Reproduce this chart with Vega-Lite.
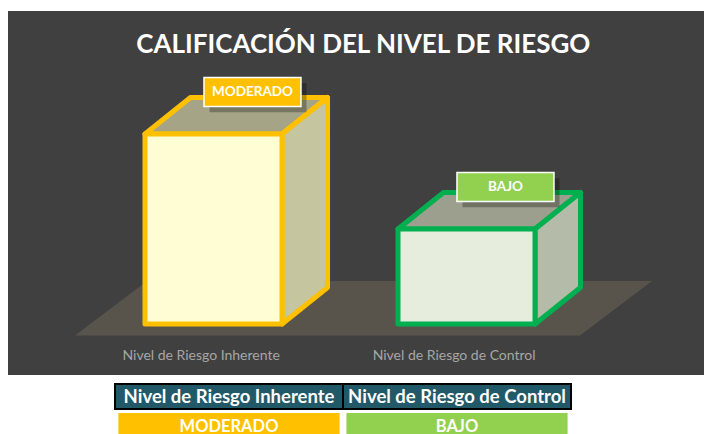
{
  "$schema": "https://vega.github.io/schema/vega-lite/v6.json",
  "padding": {"left": 8, "top": 11, "right": 0, "bottom": 0},
  "background": "white",
  "spacing": 9,
  "bounds": "flush",
  "config": {"view": {"stroke": null}, "text": {"font": "Lato"}},
  "datasets": {
    "barras": [
      {"nivel": "Nivel de Riesgo Inherente", "calificacion": "MODERADO", "valor": 2},
      {"nivel": "Nivel de Riesgo de Control", "calificacion": "BAJO", "valor": 1}
    ]
  },
  "vconcat": [
    {
      "width": 696,
      "height": 364,
      "view": {"fill": "#404040", "stroke": null},
      "data": {"name": "barras"},
      "transform": [
        {"window": [{"op": "row_number", "as": "rn"}]},
        {"calculate": "datum.rn - 1", "as": "pos"}
      ],
      "layer": [
        {
          "data": {"values": [{"borde": "frente"}, {"borde": "fondo"}]},
          "transform": [
            {"calculate": "datum.borde === 'frente' ? -0.121 : 0.4526", "as": "py"},
            {"calculate": "datum.borde === 'frente' ? -0.5474 : -0.2628", "as": "px1"},
            {"calculate": "datum.borde === 'frente' ? 1.4486 : 1.7332", "as": "px2"}
          ],
          "mark": {"type": "area", "orient": "horizontal", "fill": "#58544C"},
          "encoding": {
            "y": {"field": "py", "type": "quantitative", "scale": {"domain": [-0.5368, 3.2947], "nice": false, "zero": false}, "axis": null},
            "x": {"field": "px1", "type": "quantitative", "scale": {"domain": [-0.8123, 1.9387], "nice": false, "zero": false}, "axis": null},
            "x2": {"field": "px2"}
          }
        },
        {
          "transform": [
            {"calculate": "datum.valor", "as": "yf"},
            {"calculate": "datum.valor + 0.3842", "as": "yb"},
            {"fold": ["yf", "yb"], "as": ["borde", "yy"]},
            {"calculate": "datum.pos - 0.2708 + (datum.borde === 'yb' ? 0.1798 : 0)", "as": "xa"},
            {"calculate": "datum.pos + 0.2708 + (datum.borde === 'yb' ? 0.1798 : 0)", "as": "xb"}
          ],
          "mark": {"type": "area", "orient": "horizontal", "strokeWidth": 5, "strokeJoin": "round"},
          "encoding": {
            "y": {"field": "yy", "type": "quantitative", "scale": {"domain": [-0.5368, 3.2947], "nice": false, "zero": false}, "axis": null},
            "x": {"field": "xa", "type": "quantitative", "scale": {"domain": [-0.8123, 1.9387], "nice": false, "zero": false}, "axis": null},
            "x2": {"field": "xb"},
            "detail": {"field": "nivel"},
            "fill": {"field": "calificacion", "type": "nominal", "scale": {"domain": ["MODERADO", "BAJO"], "range": ["#A6A487", "#9C9F8E"]}, "legend": null},
            "stroke": {"field": "calificacion", "type": "nominal", "scale": {"domain": ["MODERADO", "BAJO"], "range": ["#FFC000", "#00B050"]}, "legend": null}
          }
        },
        {
          "transform": [
            {"calculate": "datum.pos + 0.2708", "as": "xf"},
            {"calculate": "datum.pos + 0.2708 + 0.1798", "as": "xr"},
            {"fold": ["xf", "xr"], "as": ["borde", "xx"]},
            {"calculate": "datum.borde === 'xr' ? 0.3842 : 0", "as": "ylo"},
            {"calculate": "datum.valor + (datum.borde === 'xr' ? 0.3842 : 0)", "as": "yhi"}
          ],
          "mark": {"type": "area", "orient": "vertical", "strokeWidth": 5, "strokeJoin": "round"},
          "encoding": {
            "x": {"field": "xx", "type": "quantitative", "scale": {"domain": [-0.8123, 1.9387], "nice": false, "zero": false}, "axis": null},
            "y": {"field": "yhi", "type": "quantitative", "scale": {"domain": [-0.5368, 3.2947], "nice": false, "zero": false}, "axis": null},
            "y2": {"field": "ylo"},
            "detail": {"field": "nivel"},
            "fill": {"field": "calificacion", "type": "nominal", "scale": {"domain": ["MODERADO", "BAJO"], "range": ["#C5C59F", "#B4BBA9"]}, "legend": null},
            "stroke": {"field": "calificacion", "type": "nominal", "scale": {"domain": ["MODERADO", "BAJO"], "range": ["#FFC000", "#00B050"]}, "legend": null}
          }
        },
        {
          "transform": [
            {"calculate": "datum.pos - 0.2708", "as": "x0"},
            {"calculate": "datum.pos + 0.2708", "as": "x1"}
          ],
          "mark": {"type": "rect", "strokeWidth": 5, "strokeJoin": "round"},
          "encoding": {
            "x": {"field": "x0", "type": "quantitative", "scale": {"domain": [-0.8123, 1.9387], "nice": false, "zero": false}, "axis": null},
            "x2": {"field": "x1"},
            "y": {"field": "valor", "type": "quantitative", "scale": {"domain": [-0.5368, 3.2947], "nice": false, "zero": false}, "axis": null},
            "y2": {"datum": 0},
            "fill": {"field": "calificacion", "type": "nominal", "scale": {"domain": ["MODERADO", "BAJO"], "range": ["#FFFDD3", "#E7EDDD"]}, "legend": null},
            "stroke": {"field": "calificacion", "type": "nominal", "scale": {"domain": ["MODERADO", "BAJO"], "range": ["#FFC000", "#00B050"]}, "legend": null}
          }
        },
        {
          "transform": [
            {"calculate": "datum.pos + 0.154 - 0.1917 + 0.022", "as": "bx0"},
            {"calculate": "datum.pos + 0.154 + 0.1917 + 0.022", "as": "bx1"},
            {"calculate": "datum.valor + 0.3842 + 0.058 - 0.1526 - 0.06", "as": "by0"},
            {"calculate": "datum.valor + 0.3842 + 0.058 + 0.1526 - 0.06", "as": "by1"}
          ],
          "mark": {"type": "rect", "fill": "#000000", "opacity": 0.28},
          "encoding": {
            "x": {"field": "bx0", "type": "quantitative", "scale": {"domain": [-0.8123, 1.9387], "nice": false, "zero": false}, "axis": null},
            "x2": {"field": "bx1"},
            "y": {"field": "by0", "type": "quantitative", "scale": {"domain": [-0.5368, 3.2947], "nice": false, "zero": false}, "axis": null},
            "y2": {"field": "by1"}
          }
        },
        {
          "transform": [
            {"calculate": "datum.pos + 0.154 - 0.1917", "as": "bx0"},
            {"calculate": "datum.pos + 0.154 + 0.1917", "as": "bx1"},
            {"calculate": "datum.valor + 0.3842 + 0.058 - 0.1526", "as": "by0"},
            {"calculate": "datum.valor + 0.3842 + 0.058 + 0.1526", "as": "by1"}
          ],
          "mark": {"type": "rect", "stroke": "#FFFFFF", "strokeWidth": 1.5},
          "encoding": {
            "x": {"field": "bx0", "type": "quantitative", "scale": {"domain": [-0.8123, 1.9387], "nice": false, "zero": false}, "axis": null},
            "x2": {"field": "bx1"},
            "y": {"field": "by0", "type": "quantitative", "scale": {"domain": [-0.5368, 3.2947], "nice": false, "zero": false}, "axis": null},
            "y2": {"field": "by1"},
            "fill": {"field": "calificacion", "type": "nominal", "scale": {"domain": ["MODERADO", "BAJO"], "range": ["#FFC000", "#92D050"]}, "legend": null}
          }
        },
        {
          "transform": [
            {"calculate": "datum.pos + 0.154", "as": "bx"},
            {"calculate": "datum.valor + 0.3842 + 0.058", "as": "by"}
          ],
          "mark": {"type": "text", "color": "#FFFFFF", "font": "Lato", "fontWeight": "bold", "fontSize": 13.5, "align": "center", "baseline": "middle"},
          "encoding": {
            "x": {"field": "bx", "type": "quantitative", "scale": {"domain": [-0.8123, 1.9387], "nice": false, "zero": false}, "axis": null},
            "y": {"field": "by", "type": "quantitative", "scale": {"domain": [-0.5368, 3.2947], "nice": false, "zero": false}, "axis": null},
            "text": {"field": "calificacion"}
          }
        },
        {
          "transform": [
            {"calculate": "datum.pos - 0.049", "as": "lx"}
          ],
          "mark": {"type": "text", "color": "#A6A6A6", "font": "Lato", "fontSize": 14, "align": "center", "baseline": "middle"},
          "encoding": {
            "x": {"field": "lx", "type": "quantitative", "scale": {"domain": [-0.8123, 1.9387], "nice": false, "zero": false}, "axis": null},
            "y": {"datum": -0.334, "type": "quantitative", "scale": {"domain": [-0.5368, 3.2947], "nice": false, "zero": false}, "axis": null},
            "text": {"field": "nivel"}
          }
        },
        {
          "data": {"values": [{"titulo": "CALIFICACIÓN DEL NIVEL DE RIESGO"}]},
          "mark": {"type": "text", "color": "#FFFFFF", "font": "Lato", "fontWeight": "bold", "fontSize": 26, "align": "center", "baseline": "alphabetic"},
          "encoding": {
            "x": {"datum": 0.592, "type": "quantitative", "scale": {"domain": [-0.8123, 1.9387], "nice": false, "zero": false}, "axis": null},
            "y": {"datum": 2.849, "type": "quantitative", "scale": {"domain": [-0.5368, 3.2947], "nice": false, "zero": false}, "axis": null},
            "text": {"field": "titulo"}
          }
        }
      ],
      "resolve": {"scale": {"fill": "independent", "stroke": "independent"}}
    },
    {
      "width": 696,
      "height": 50,
      "view": {"stroke": null},
      "data": {"name": "barras"},
      "transform": [
        {"window": [{"op": "row_number", "as": "rn"}]},
        {"calculate": "datum.rn - 1", "as": "pos"}
      ],
      "layer": [
        {
          "transform": [
            {"calculate": "datum.pos - 0.5", "as": "x0"},
            {"calculate": "datum.pos + 0.5", "as": "x1"}
          ],
          "mark": {"type": "rect", "fill": "#215968", "stroke": "#000000", "strokeWidth": 2},
          "encoding": {
            "x": {"field": "x0", "type": "quantitative", "scale": {"domain": [-0.9693, 2.0833], "nice": false, "zero": false}, "axis": null},
            "x2": {"field": "x1"},
            "y": {"datum": 1, "type": "quantitative", "scale": {"domain": [0, 2], "nice": false, "zero": false}, "axis": null},
            "y2": {"datum": 2}
          }
        },
        {
          "mark": {"type": "text", "color": "#FFFFFF", "font": "Lato", "fontWeight": "bold", "fontSize": 18.5, "align": "center", "baseline": "middle"},
          "encoding": {
            "x": {"field": "pos", "type": "quantitative", "scale": {"domain": [-0.9693, 2.0833], "nice": false, "zero": false}, "axis": null},
            "y": {"datum": 1.5, "type": "quantitative", "scale": {"domain": [0, 2], "nice": false, "zero": false}, "axis": null},
            "text": {"field": "nivel"}
          }
        },
        {
          "transform": [
            {"calculate": "datum.pos - 0.485", "as": "x0"},
            {"calculate": "datum.pos + 0.485", "as": "x1"}
          ],
          "mark": {"type": "rect"},
          "encoding": {
            "x": {"field": "x0", "type": "quantitative", "scale": {"domain": [-0.9693, 2.0833], "nice": false, "zero": false}, "axis": null},
            "x2": {"field": "x1"},
            "y": {"datum": 0, "type": "quantitative", "scale": {"domain": [0, 2], "nice": false, "zero": false}, "axis": null},
            "y2": {"datum": 0.84},
            "fill": {"field": "calificacion", "type": "nominal", "scale": {"domain": ["MODERADO", "BAJO"], "range": ["#FFC000", "#92D050"]}, "legend": null}
          }
        },
        {
          "mark": {"type": "text", "color": "#FFFFFF", "font": "Lato", "fontWeight": "bold", "fontSize": 16.5, "align": "center", "baseline": "alphabetic"},
          "encoding": {
            "x": {"field": "pos", "type": "quantitative", "scale": {"domain": [-0.9693, 2.0833], "nice": false, "zero": false}, "axis": null},
            "y": {"datum": 0.1, "type": "quantitative", "scale": {"domain": [0, 2], "nice": false, "zero": false}, "axis": null},
            "text": {"field": "calificacion"}
          }
        }
      ]
    }
  ]
}
